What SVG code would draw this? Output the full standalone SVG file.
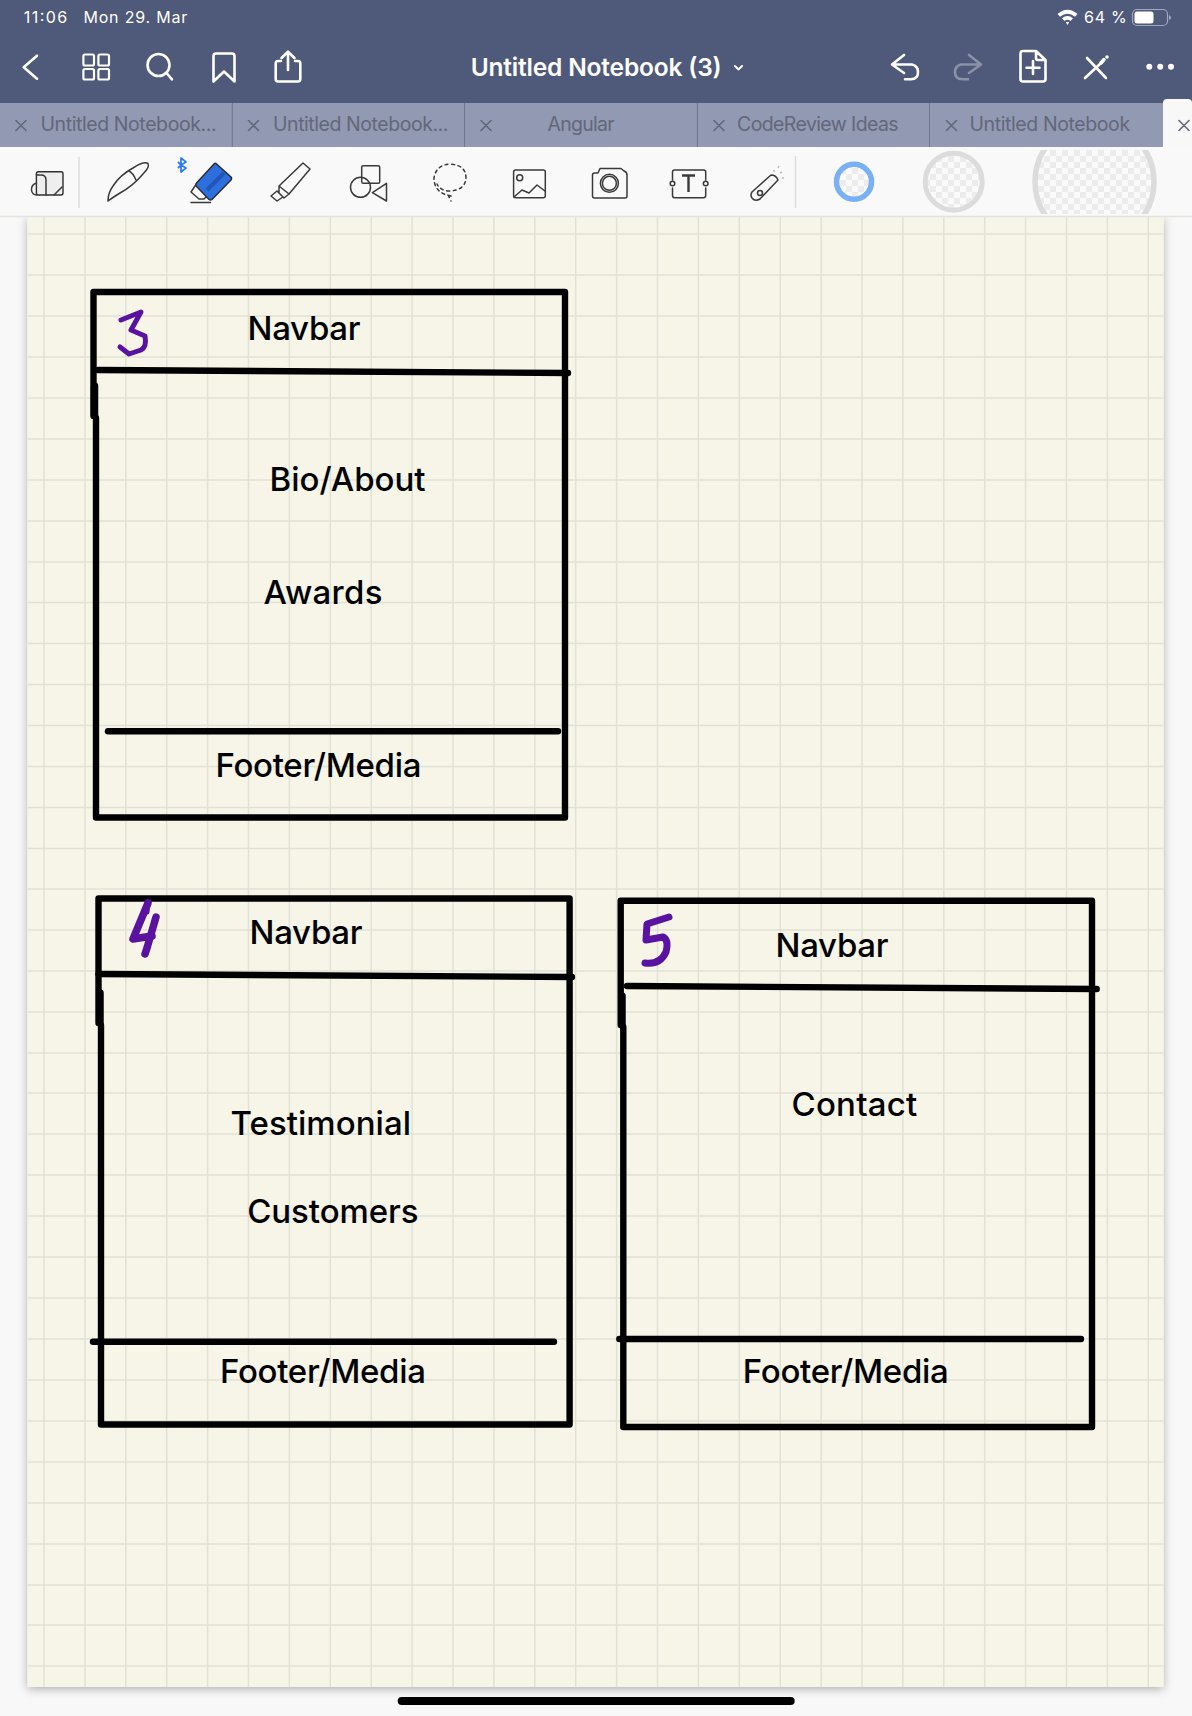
<svg xmlns="http://www.w3.org/2000/svg" width="1192" height="1716" viewBox="0 0 1192 1716">
<style>
text{font-family:"Inter","Noto Sans","Liberation Sans",sans-serif}
.hd{font-size:16px;fill:#fff;font-weight:400}
.title{font-size:24.5px;fill:#fff;font-weight:600}
.tab{font-size:19.5px;fill:#63677a;font-weight:400}
.lbl{font-size:33px;fill:#000;font-weight:550}
.ink{fill:none;stroke:#000;stroke-width:6.4;stroke-linecap:round;stroke-linejoin:round}
.num{fill:none;stroke:#5a12a0;stroke-linecap:round;stroke-linejoin:round}
.wi{fill:none;stroke:#fff;stroke-width:2.6;stroke-linecap:round;stroke-linejoin:round}
.ti{fill:none;stroke:#3a3a3a;stroke-width:1.5;stroke-linecap:round;stroke-linejoin:round}
.x{fill:none;stroke:#63677a;stroke-width:1.6;stroke-linecap:round}
.gv{stroke:#e1e2d5;stroke-width:1.5}
.gh{stroke:#e1e2d5;stroke-width:1.5}
</style>
<defs>
<pattern id="chk" width="12" height="12" patternUnits="userSpaceOnUse">
<rect width="12" height="12" fill="#fafafa"/><rect width="6" height="6" fill="#ececec"/><rect x="6" y="6" width="6" height="6" fill="#ececec"/>
</pattern>
<filter id="sh" x="-5%" y="-5%" width="110%" height="110%"><feDropShadow dx="0" dy="2" stdDeviation="5" flood-color="#000" flood-opacity="0.3"/></filter>
<clipPath id="tb"><rect x="980" y="150" width="212" height="64"/></clipPath>
</defs>
<rect width="1192" height="1716" fill="#f8f8f8"/>
<g id="page">
<rect x="27.5" y="217" width="1136" height="1470" fill="#f6f5e8" filter="url(#sh)"/>
<g id="grid-vertical" class="gv">
<path d="M44 217V1687M85 217V1687M125.8 217V1687M166.7 217V1687M207.6 217V1687M248.5 217V1687M289.4 217V1687M330.3 217V1687M371.2 217V1687M412.1 217V1687M453 217V1687M493.9 217V1687M534.8 217V1687M575.7 217V1687M616.6 217V1687M657.5 217V1687M698.4 217V1687M739.3 217V1687M780.2 217V1687M821.1 217V1687M862 217V1687M902.9 217V1687M943.8 217V1687M984.7 217V1687M1025.6 217V1687M1066.5 217V1687M1107.4 217V1687M1148.3 217V1687"/>
</g>
<g id="grid-horizontal" class="gh">
<path d="M27.5 234H1163.5M27.5 275H1163.5M27.5 316H1163.5M27.5 357H1163.5M27.5 398H1163.5M27.5 439H1163.5M27.5 480H1163.5M27.5 521H1163.5M27.5 562H1163.5M27.5 602.5H1163.5M27.5 643.5H1163.5M27.5 684.5H1163.5M27.5 725.5H1163.5M27.5 766.5H1163.5M27.5 807.5H1163.5M27.5 848.5H1163.5M27.5 889H1163.5M27.5 930H1163.5M27.5 971H1163.5M27.5 1012H1163.5M27.5 1053H1163.5M27.5 1093H1163.5M27.5 1134H1163.5M27.5 1175H1163.5M27.5 1216H1163.5M27.5 1257H1163.5M27.5 1298H1163.5M27.5 1339H1163.5M27.5 1380H1163.5M27.5 1421H1163.5M27.5 1462H1163.5M27.5 1503H1163.5M27.5 1544H1163.5M27.5 1585H1163.5M27.5 1625H1163.5M27.5 1666H1163.5"/>
</g>
</g>
<g id="frame-3">
<path class="ink" d="M93.5 416V292H565V817.5H96V418"/>
<path class="ink" d="M98 370L568 373"/>
<path class="ink" style="stroke-width:7.5" d="M94.5 386V415"/>
<path class="ink" d="M108 731.3H558"/>
<path class="num" stroke-width="5" d="M121 320L141 312L131 330L145 336Q147 347 141 350L129 354L120 347"/>
<text class="lbl" x="247.500" y="339.500" textLength="113">Navbar</text>
<text class="lbl" x="269.500" y="491" textLength="156">Bio/About</text>
<text class="lbl" x="263.500" y="603.500" textLength="119">Awards</text>
<text class="lbl" x="215.500" y="777" textLength="206">Footer/Media</text>
</g>
<g id="frame-4">
<path class="ink" d="M98.5 1023V898.5H569.6V1424.500H101V1025"/>
<path class="ink" d="M98.5 974L572 977"/>
<path class="ink" style="stroke-width:7.5" d="M100 993V1022"/>
<path class="ink" d="M93 1341.7H554"/>
<path class="num" stroke-width="7.5" d="M148 903L133 939L152 936"/>
<path class="num" stroke-width="7.5" d="M156 917L147 948L145 954"/>
<path class="num" stroke-width="5" d="M148 903L147 912"/>
<text class="lbl" x="249.500" y="943.800" textLength="113">Navbar</text>
<text class="lbl" x="230.500" y="1134.800" textLength="180.500">Testimonial</text>
<text class="lbl" x="247.200" y="1223" textLength="171.300">Customers</text>
<text class="lbl" x="220" y="1383" textLength="206">Footer/Media</text>
</g>
<g id="frame-5">
<path class="ink" d="M620.7 1025V900.7H1092V1427H623.3V1027"/>
<path class="ink" d="M627 986L1096.7 989"/>
<path class="ink" style="stroke-width:7.5" d="M622 996V1025"/>
<path class="ink" d="M619.3 1339H1081"/>
<path class="num" stroke-width="7" d="M669 917L647 924L646 940L663 937Q669 940 666 952Q660 965 645 963"/>
<text class="lbl" x="775.500" y="956.500" textLength="113">Navbar</text>
<text class="lbl" x="791.500" y="1116" textLength="125.700">Contact</text>
<text class="lbl" x="742.800" y="1382.800" textLength="206">Footer/Media</text>
</g>
<g id="home-indicator"><rect x="397.7" y="1697" width="397" height="8" rx="4" fill="#000"/></g>

<g id="header">
<rect width="1192" height="103" fill="#4f5979"/>
<text class="hd" x="23.7" y="22.7" textLength="43.5">11:06</text>
<text class="hd" x="83.4" y="22.7" textLength="104">Mon 29. Mar</text>
<text class="title" x="470.7" y="76" textLength="251">Untitled Notebook (3)</text>
<path class="wi" style="stroke-width:2" d="M735 66L738.5 69.5L742 66"/>
<path class="wi" d="M37 55.7L23.7 67.3L37 78.7"/>
<g class="wi" style="stroke-width:2.2"><rect x="83.4" y="54.5" width="10.6" height="11" rx="1.5"/><rect x="98.4" y="54.5" width="10.6" height="11" rx="1.5"/><rect x="83.4" y="69" width="10.6" height="10.5" rx="1.5"/><rect x="98.4" y="69" width="10.6" height="10.500" rx="1.5"/></g>
<circle class="wi" cx="158.5" cy="65" r="11"/><path class="wi" d="M166.5 73L172 79.3"/>
<path class="wi" d="M213.5 56Q213.5 53.5 216 53.5H232Q234.5 53.5 234.5 56V81.5L224 71.5L213.5 81.5Z"/>
<path class="wi" d="M281 61H278Q275.7 61 275.7 63.5V79Q275.7 81.5 278 81.5H298Q300.3 81.5 300.3 79V63.5Q300.3 61 298 61H295M288 70V52M281.5 58L288 51.7L294.5 58"/>
<path class="wi" d="M904 55L892 64.5L904 73M892 64.5H912Q918 66 918 72Q918 79 911 79.3H905"/>
<path class="wi" style="stroke:#8b91a8" d="M969 55L981 64.5L969 73M981 64.5H961Q955 66 955 72Q955 79 962 79.3H968"/>
<path class="wi" d="M1036 51H1023Q1020.5 51 1020.5 53.5V79Q1020.5 81.5 1023 81.5H1043Q1045.5 81.5 1045.5 79V60ZM1036 51V58Q1036 60 1038 60H1045.5M1033 61V74M1026.5 67.7H1039.5"/>
<path class="wi" d="M1087 58L1106 78M1101 63L1085 78"/>
<path d="M1101 63L1104 59.500" stroke="#fff" stroke-width="3.500" stroke-linecap="round"/>
<circle cx="1107" cy="57" r="1.8" fill="#fff"/>
<circle cx="1149.3" cy="66.7" r="3" fill="#fff"/><circle cx="1160.2" cy="66.7" r="3" fill="#fff"/><circle cx="1171" cy="66.7" r="3" fill="#fff"/>
<path d="M1057.500 14Q1067.500 5.500 1077.500 14L1075 16.800Q1067.500 10.500 1060 16.800ZM1062 18.300Q1067.500 13.500 1073 18.300L1070.500 21Q1067.500 18.500 1064.500 21ZM1065.800 22.300Q1067.500 21 1069.200 22.300L1067.500 25Z" fill="#fff"/>
<text class="hd" x="1084" y="22.7" textLength="42.6">64 %</text>
<rect x="1132.5" y="9.5" width="35" height="16" rx="4.5" fill="none" stroke="#a2a8bb" stroke-width="1.2"/>
<rect x="1134.5" y="11.5" width="19" height="12" rx="2.5" fill="#fff"/>
<path d="M1169 15V20Q1171 19 1171 17.5Q1171 16 1169 15Z" fill="#a2a8bb"/>
</g>
<g id="tabs">
<rect y="103" width="1163" height="44" fill="#9299b3"/>
<path d="M232.3 103V147M464.6 103V147M697.4 103V147M929.5 103V147" stroke="#6f7690" stroke-width="1"/>
<rect x="1163" y="99" width="29" height="48" rx="4" fill="#f8f8f8"/>
<path class="x" d="M16 120.5L26 130.5M26 120.5L16 130.5M248.5 120.5L258.5 130.5M258.5 120.5L248.5 130.5M481 120.5L491 130.5M491 120.5L481 130.5M714 120.5L724 130.5M724 120.5L714 130.5M946.5 120.5L956.5 130.5M956.5 120.5L946.5 130.5M1179 120.5L1189 130.5M1189 120.5L1179 130.5"/>
<text class="tab" x="40.500" y="131" textLength="176">Untitled Notebook...</text>
<text class="tab" x="273" y="131" textLength="175.400">Untitled Notebook...</text>
<text class="tab" x="547.500" y="131" textLength="67">Angular</text>
<text class="tab" x="737" y="131" textLength="161.600">CodeReview Ideas</text>
<text class="tab" x="969.500" y="131" textLength="160.600">Untitled Notebook</text>
</g>
<g id="toolbar">
<rect y="147" width="1192" height="69" fill="#f9f9f9"/>
<path d="M0 216.5H1192" stroke="#e4e4df" stroke-width="1.4"/>
<path d="M79 157V208M795.5 156V208" stroke="#dcdcdc" stroke-width="1.4"/>
<rect x="36.4" y="171.7" width="26.6" height="23.3" rx="2" fill="#eeeeee" stroke="#2f2f2f" stroke-width="1.4"/>
<path class="ti" d="M36.5 175H41Q46 175 46 180V195M36.500 183Q31 185 31.500 190Q32 195 37 195M54 195L62 187"/>
<path class="ti" d="M108 201Q108 193 113 186Q120 175 133 168Q144 161 148 163.500Q150 167 143 174Q133 186 120 193Q112 198 108 201ZM129 171Q133 173 136 180"/>
<path d="M181 158V172L186 168L181 165L186 162ZM178 162L181 165L178 168" fill="none" stroke="#2f7bf6" stroke-width="1.8" stroke-linejoin="round"/>
<path class="ti" d="M197 183L191 192L199 199H204L211 192M191 202.500H210.500"/>
<path d="M216 163.500L231.500 177.500Q232 179 231 180L212 199.500Q210.500 200.500 209 199.500L196 186Q195.500 184 196.500 183L214 164Q215 163 216 163.500Z" fill="#2e6fe0" stroke="#2a2a2a" stroke-width="1.400"/>
<path d="M207 190L224 173" stroke="#2256b5" stroke-width="4"/>
<path class="ti" d="M303 163L310 169L289 194L279 186ZM279 186L279 193L284 198L289 194M271 196L277 191L283 197L277 201Z"/>
<rect class="ti" x="361.700" y="165.700" width="18" height="17.600" rx="1.500"/>
<circle class="ti" cx="360.500" cy="187.300" r="10"/>
<path class="ti" d="M386.500 183.300V201L372.400 192.700Z"/>
<path class="ti" stroke-dasharray="3 3.500" d="M451 196Q434 193 434 178Q436 165 450 164Q466 165 466 178Q465 191 448 191Q440 190 437 184M448 195L451 201"/>
<rect class="ti" x="513.600" y="170" width="31.700" height="27.700" rx="2"/>
<circle class="ti" cx="519.700" cy="177.700" r="3"/>
<path class="ti" d="M514 197L522 190L529 193L537 185L545 191"/>
<path class="ti" d="M594.500 173H598L600 168.500H621L624 171Q627 172 627 175V196Q627 198 625 198H594.500Q592.500 198 592.500 196V175Q592.500 173 594.500 173Z"/>
<circle class="ti" cx="609.400" cy="183.300" r="9"/><circle class="ti" cx="609.400" cy="183.300" r="7"/>
<path class="ti" d="M672.500 180V172Q672.500 170 674.500 170H703.500Q705.700 170 705.700 172V180M705.700 188V195.500Q705.700 197.700 703.500 197.700H674.500Q672.500 197.700 672.500 195.500V188"/>
<circle class="ti" cx="672.500" cy="183.500" r="2.300"/><circle class="ti" cx="705.700" cy="183.500" r="2.300"/>
<path d="M682 175.500H695M688.500 175.500V192" fill="none" stroke="#3a3a3a" stroke-width="2.400"/>
<path class="ti" d="M752 192L771 175Q776 175 778 180L760 199Q755 202 752 198Q750 195 752 192Z"/>
<circle class="ti" cx="760" cy="193" r="2.500"/>
<path d="M774 170V172M779 166L778 168M782 172L780 173M784 178H782" stroke="#bbb" stroke-width="1.500"/>
<circle cx="854" cy="181.700" r="17.500" fill="url(#chk)" stroke="#7ab0f5" stroke-width="5.500"/>
<circle cx="953.700" cy="181.700" r="28.500" fill="url(#chk)" stroke="#dcdcdc" stroke-width="5"/>
<g clip-path="url(#tb)"><circle cx="1094.500" cy="181.700" r="59.500" fill="url(#chk)" stroke="#dcdcdc" stroke-width="5.500"/></g>
</g>
</svg>
